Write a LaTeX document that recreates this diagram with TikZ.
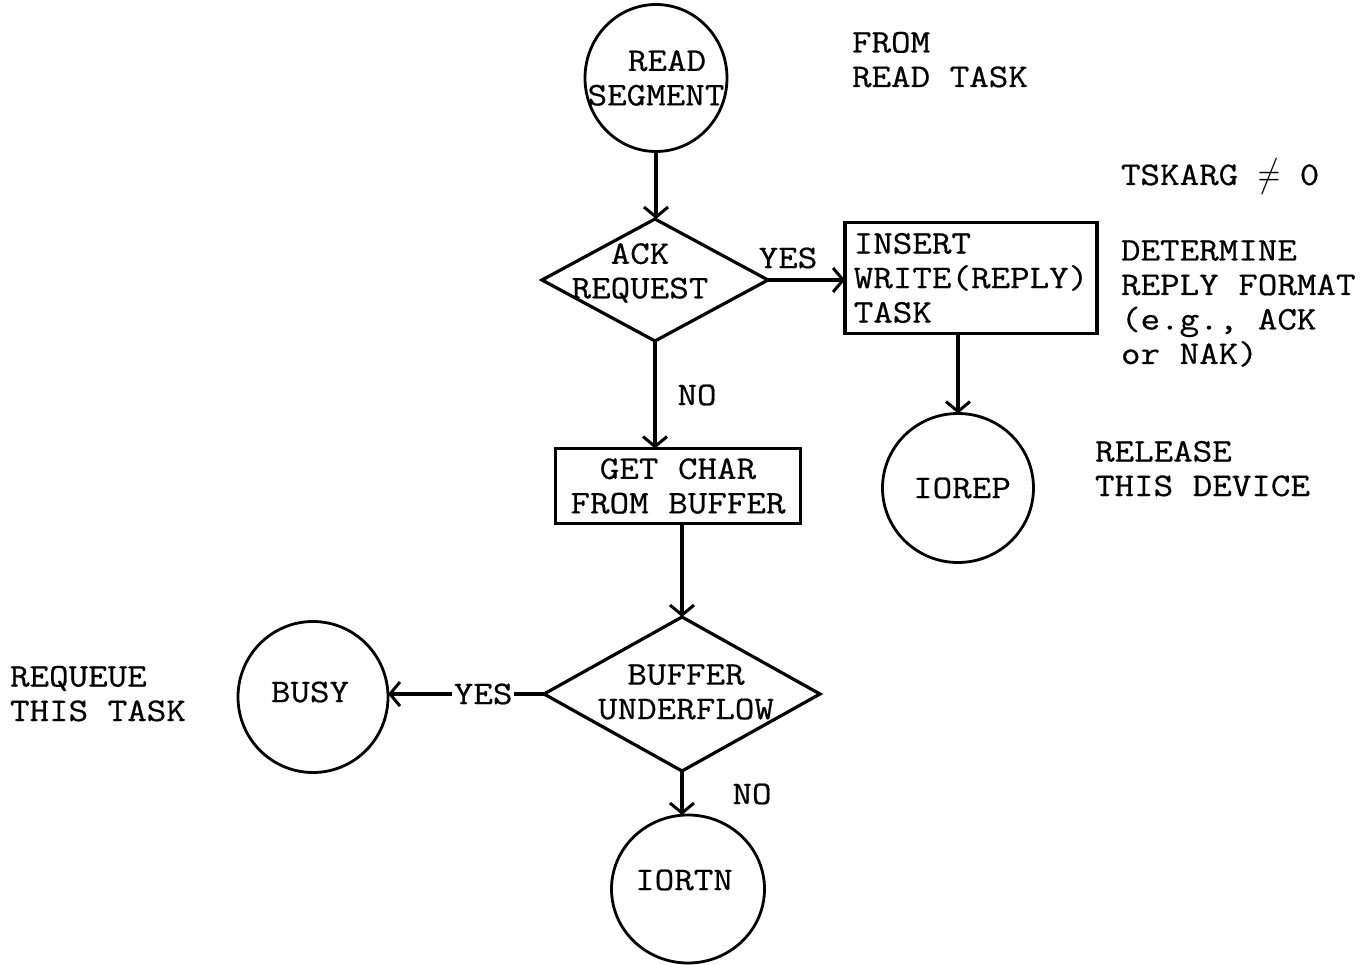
\documentclass[tikz,border=0pt]{standalone}
\usepackage{fontspec}
\setmonofont{Latin Modern Mono}[FakeStretch=1.15, FakeBold=0.6]
\usetikzlibrary{shapes.geometric,arrows.meta}
\begin{document}
\begin{tikzpicture}[x=1pt,y=-1pt,
  every node/.style={font=\ttfamily\fontsize{33}{34.5}\selectfont, inner sep=0pt, outer sep=0pt},
  flow/.style={line width=3.2pt, line cap=round},
  arr/.style={flow,-{Straight Barb[length=10pt,width=24pt,line width=3pt]}},
  term/.style={draw, ellipse, line width=2.8pt},
  proc/.style={draw, rectangle, line width=3.2pt},
  decide/.style={draw, diamond, line width=3.2pt},
  note/.style={align=left, anchor=base west},
  tag/.style={anchor=center}]
\useasboundingbox (0,0) rectangle (1371,965);

% terminals
\node[term, minimum width=142pt, minimum height=147pt] (rs) at (656,78) {};
\node[align=center] (rstxt) at (rs.center) {\hspace*{22pt}READ\\SEGMENT};
\node[term, minimum width=151pt, minimum height=149pt] (iorep) at (958,488) {};
\node (ioreptxt) at (962,488) {IOREP};
\node[term, minimum width=150pt, minimum height=151pt] (busy) at (313,697) {};
\node (busytxt) at (310,692) {BUSY};
\node[term, minimum width=153pt, minimum height=148pt] (iortn) at (688,889) {};
\node (iortntxt) at (684,880) {IORTN};

% decisions
\node[decide, minimum width=226pt, minimum height=122pt] (ack) at (655,280) {};
\node[align=center] (acktxt) at (640,273) {ACK\\REQUEST};
\node[decide, minimum width=276pt, minimum height=154pt] (buf) at (682,694) {};
\node[align=center] (buftxt) at (686,692) {BUFFER\\UNDERFLOW};

% processes
\node[proc, minimum width=252pt, minimum height=111pt, align=left] (ins) at (971,278)
  {INSERT\\WRITE(REPLY)\\TASK};
\node[proc, minimum width=245pt, minimum height=75pt, align=center] (gc) at (678,486)
  {GET CHAR\\FROM BUFFER};

% connectors
\draw[arr] (rs.south) -- (rs.south |- ack.north);
\draw[arr] (ack.east) -- (ack.east -| ins.west);
\node[tag] (yes1) at (788,258) {YES};
\draw[arr] (ack.south) -- (ack.south |- gc.north);
\node[tag] (no1) at (697,395) {NO};
\draw[arr] (iorep.north |- ins.south) -- (iorep.north);
\draw[arr] (gc.south -| buf.north) -- (buf.north);
\draw[arr] (buf.west) -- node[tag, pos=0.39, fill=white, inner xsep=2pt] (yes2) {YES} (buf.west -| busy.east);
\draw[arr] (buf.south) -- (buf.south |- iortn.north);
\node[tag] (no2) at (752,794) {NO};

% annotations (anchored at the baseline of their last line)
\node[note] (from) at (852,87) {FROM\\READ TASK};
\node[note] (cond) at (1121,185) {TSKARG \raisebox{-2pt}{\scalebox{1.25}[1.6]{$\neq$}} 0};
\node[note] (fmt) at (1121,364) {DETERMINE\\REPLY FORMAT\\(e.g., ACK\\or NAK)};
\node[note] (rel) at (1095,496) {RELEASE\\THIS DEVICE};
\node[note] (req) at (10,721) {REQUEUE\\THIS TASK};
\end{tikzpicture}
\end{document}
